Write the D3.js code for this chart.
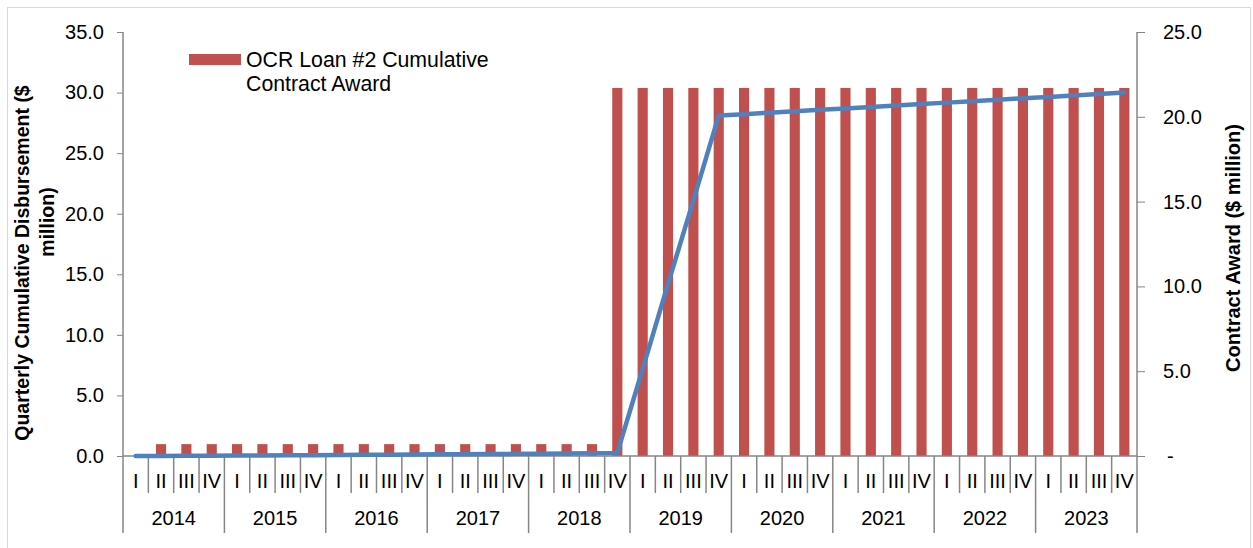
<!DOCTYPE html>
<html>
<head>
<meta charset="utf-8">
<script src="https://cdn.jsdelivr.net/npm/d3@7"></script>
<style>
  html, body { margin: 0; padding: 0; background: #fff; }
  svg { display: block; font-family: "Liberation Sans", Arial, sans-serif; }
</style>
</head>
<body>
<svg id="chart" width="1253" height="548"></svg>
<script>
// Quarterly series, 2014 Q1 – 2023 Q4
const years = ["2014", "2015", "2016", "2017", "2018", "2019", "2020", "2021", "2022", "2023"];
const quarterNames = ["I", "II", "III", "IV"];

// Cumulative contract award ($ million, right axis)
const contractAward = [
  0.0, 0.7, 0.7, 0.7,
  0.7, 0.7, 0.7, 0.7,
  0.7, 0.7, 0.7, 0.7,
  0.7, 0.7, 0.7, 0.7,
  0.7, 0.7, 0.7, 21.7,
  21.7, 21.7, 21.7, 21.7,
  21.7, 21.7, 21.7, 21.7,
  21.7, 21.7, 21.7, 21.7,
  21.7, 21.7, 21.7, 21.7,
  21.7, 21.7, 21.7, 21.7
];

// Quarterly cumulative disbursement ($ million, left axis)
const disbursement = [
  0.00, 0.01, 0.02, 0.03,
  0.04, 0.05, 0.06, 0.07,
  0.08, 0.10, 0.11, 0.12,
  0.14, 0.15, 0.16, 0.18,
  0.19, 0.20, 0.22, 0.25,
  7.2, 14.2, 21.1, 28.1,
  28.22, 28.34, 28.46, 28.58,
  28.69, 28.81, 28.93, 29.05,
  29.17, 29.29, 29.41, 29.53,
  29.64, 29.76, 29.88, 30.00
];

const leftTicks = [0, 5, 10, 15, 20, 25, 30, 35];
const rightTicks = [0, 5, 10, 15, 20, 25];
const legendLines = ["OCR Loan #2 Cumulative", "Contract Award"];
const leftTitle = ["Quarterly Cumulative Disbursement ($", "million)"];
const rightTitle = "Contract Award ($ million)";

const quarters = [];
years.forEach(y => quarterNames.forEach(q => quarters.push({ key: y + "-" + q, year: y, q })));

const svg = d3.select("#chart");
const plot = { left: 123, right: 1137, top: 32, bottom: 456 };
const axisColor = "#868686";
const fontSize = 20;

// outer frame
svg.append("rect")
  .attr("x", 7.5).attr("y", 7.5)
  .attr("width", 1243).attr("height", 545)
  .attr("fill", "none").attr("stroke", "#d9d9d9").attr("stroke-width", 1);

const x = d3.scaleBand().domain(quarters.map(d => d.key)).range([plot.left, plot.right]);
const yL = d3.scaleLinear().domain([0, 35]).range([plot.bottom, plot.top]);
const yR = d3.scaleLinear().domain([0, 25]).range([plot.bottom, plot.top]);

// bars: contract award
const barW = x.bandwidth() * 0.4;
svg.append("g").selectAll("rect")
  .data(quarters.map((d, i) => ({ key: d.key, v: contractAward[i] })))
  .join("rect")
  .attr("x", d => x(d.key) + (x.bandwidth() - barW) / 2)
  .attr("width", barW)
  .attr("y", d => yR(d.v))
  .attr("height", d => yR(0) - yR(d.v))
  .attr("fill", "#C0504D");

// left axis
const gL = svg.append("g").attr("transform", `translate(${plot.left},0)`)
  .call(d3.axisLeft(yL).tickValues(leftTicks).tickFormat(d3.format(".1f")).tickSize(6).tickPadding(13));
gL.select(".domain").remove();
gL.selectAll(".tick line").attr("stroke", axisColor);
gL.selectAll(".tick text").attr("font-size", fontSize).attr("fill", "#000")
  .attr("font-family", "'Liberation Sans', Arial, sans-serif");

// right axis
const gR = svg.append("g").attr("transform", `translate(${plot.right},0)`)
  .call(d3.axisRight(yR).tickValues(rightTicks)
    .tickFormat(d => d === 0 ? "-" : d3.format(".1f")(d)).tickSize(8).tickPadding(18));
gR.select(".domain").remove();
gR.selectAll(".tick line").attr("stroke", axisColor);
gR.selectAll(".tick text").attr("font-size", fontSize).attr("fill", "#000")
  .attr("font-family", "'Liberation Sans', Arial, sans-serif")
  .attr("dx", d => d === 0 ? 4 : 0);

// vertical axis lines, running down through the category rows
const catBottom = 533;
[plot.left, plot.right].forEach(px => {
  svg.append("line").attr("x1", px).attr("x2", px)
    .attr("y1", plot.top).attr("y2", catBottom)
    .attr("stroke", axisColor).attr("stroke-width", 1.5);
});

// category axis baseline
svg.append("line").attr("x1", plot.left).attr("x2", plot.right)
  .attr("y1", plot.bottom).attr("y2", plot.bottom)
  .attr("stroke", axisColor).attr("stroke-width", 1.5);

// quarter separators and labels
const cat = svg.append("g");
quarters.forEach((d, i) => {
  const x0 = x(d.key);
  if (i > 0) {
    const isYear = d.q === "I";
    cat.append("line").attr("x1", x0).attr("x2", x0)
      .attr("y1", plot.bottom).attr("y2", isYear ? catBottom : 493)
      .attr("stroke", axisColor).attr("stroke-width", 1.5);
  }
  cat.append("text")
    .attr("x", x0 + x.bandwidth() / 2).attr("y", 488)
    .attr("text-anchor", "middle").attr("font-size", fontSize)
    .text(d.q);
});
years.forEach(y => {
  const x0 = x(y + "-I");
  const x1 = x(y + "-IV") + x.bandwidth();
  cat.append("text")
    .attr("x", (x0 + x1) / 2).attr("y", 525)
    .attr("text-anchor", "middle").attr("font-size", fontSize)
    .text(y);
});

// line: disbursement
const line = d3.line()
  .x((d, i) => x(quarters[i].key) + x.bandwidth() / 2)
  .y(d => yL(d));
svg.append("path")
  .datum(disbursement)
  .attr("d", line)
  .attr("fill", "none")
  .attr("stroke", "#4F81BD")
  .attr("stroke-width", 4.5)
  .attr("stroke-linejoin", "round")
  .attr("stroke-linecap", "round");

// legend
svg.append("rect").attr("x", 189).attr("y", 54).attr("width", 52).attr("height", 11)
  .attr("fill", "#C0504D");
legendLines.forEach((t, i) => {
  svg.append("text").attr("x", 246).attr("y", 67 + i * 24)
    .attr("font-size", 21.3).text(t);
});

// axis titles
svg.append("text")
  .attr("transform", "translate(29,263) rotate(-90)")
  .attr("text-anchor", "middle").attr("font-weight", "bold").attr("font-size", 19.5)
  .text(leftTitle[0]);
svg.append("text")
  .attr("transform", "translate(54,222) rotate(-90)")
  .attr("text-anchor", "middle").attr("font-weight", "bold").attr("font-size", 19.5)
  .text(leftTitle[1]);
svg.append("text")
  .attr("transform", "translate(1240,248) rotate(-90)")
  .attr("text-anchor", "middle").attr("font-weight", "bold").attr("font-size", 20)
  .text(rightTitle);
</script>
</body>
</html>
